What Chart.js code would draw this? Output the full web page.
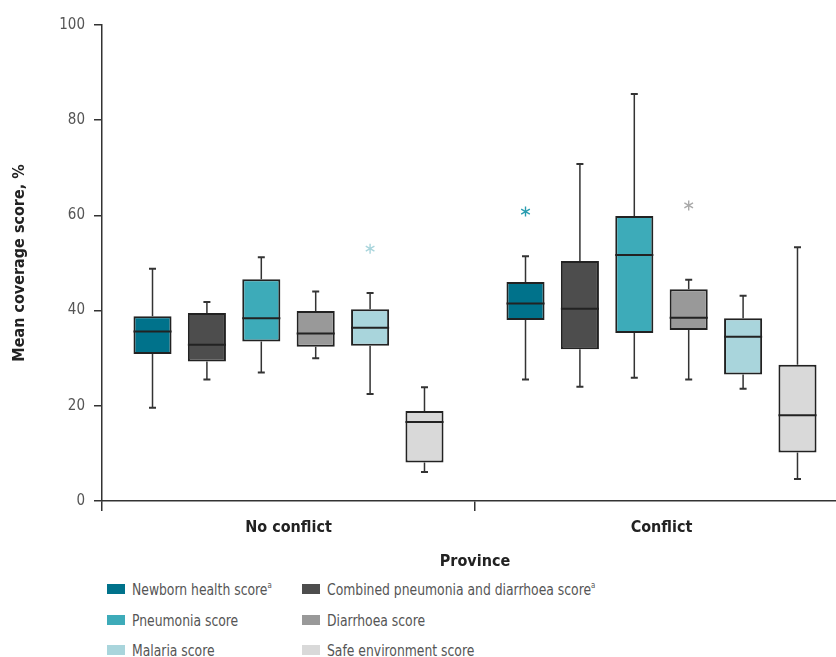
<!DOCTYPE html>
<html>
<head>
<meta charset="utf-8">
<script src="https://cdn.jsdelivr.net/npm/chart.js"></script>
<style>
  html, body { margin: 0; padding: 0; background: #fff; overflow: hidden; }
  #wrap { position: relative; width: 848px; height: 657px; }
  #chart { position: absolute; left: 0; top: 0; }
  #legend { position: absolute; left: 107px; top: 579px; font-family: 'DejaVu Sans Condensed', 'DejaVu Sans', sans-serif;
            font-size: 16px; color: #555; }
  .item { position: absolute; white-space: nowrap; height: 22px; line-height: 22px; }
  .sw { display: inline-block; width: 18px; height: 10px; margin-right: 7px; vertical-align: 1px; }
  .txt { display: inline-block; transform: scaleX(0.86); transform-origin: left center; }
  sup { font-size: 9px; vertical-align: 7px; line-height: 0; }
</style>
</head>
<body>
<div id="wrap">
  <canvas id="chart" width="848" height="575" style="width:848px;height:575px"></canvas>
  <div id="legend"></div>
</div>
<script>
// provinces on the x axis
var categories = ['No conflict', 'Conflict'];
var seriesNames = ['Newborn health score', 'Combined pneumonia and diarrhoea score', 'Pneumonia score',
                   'Diarrhoea score', 'Malaria score', 'Safe environment score'];
var footnotes = ['a', 'a', '', '', '', ''];
var seriesColors = ['#00728b', '#4d4d4d', '#3dabb9', '#999999', '#a9d5dc', '#d9d9d9'];
var outlierColors = ['#2a9db0', '#4d4d4d', '#3dabb9', '#aaaaaa', '#a9d5dc', '#d9d9d9'];

// box plot values per series, [no conflict, conflict]
var whiskerLow = [[19.6, 25.5], [25.5, 24.0], [27.0, 25.9], [30.0, 25.5], [22.5, 23.6], [6.1, 4.6]];
var quartile1  = [[30.9, 38.0], [29.3, 31.9], [33.5, 35.3], [32.4, 35.9], [32.6, 26.6], [8.1, 10.2]];
var medians    = [[35.6, 41.5], [32.8, 40.4], [38.4, 51.7], [35.2, 38.5], [36.4, 34.5], [16.6, 18.0]];
var quartile3  = [[38.8, 46.0], [39.5, 50.4], [46.6, 59.9], [39.9, 44.5], [40.3, 38.4], [18.9, 28.6]];
var whiskerHigh= [[48.8, 51.4], [41.8, 70.8], [51.2, 85.5], [44.0, 46.5], [43.7, 43.1], [23.9, 53.3]];
var outliers   = [[[], [60.8]], [[], []], [[], []], [[], [62.1]], [[53.0], []], [[], []]];

var yTicks = [0, 20, 40, 60, 80, 100];

var FONT = "'DejaVu Sans Condensed', 'DejaVu Sans', sans-serif";

var datasets = seriesNames.map(function(name, i) {
    return {
        label: name,
        data: categories.map(function(c, j) { return [quartile1[i][j], quartile3[i][j]]; }),
        backgroundColor: seriesColors[i],
        borderColor: '#222',
        borderWidth: 2,
        borderSkipped: false,
        categoryPercentage: 0.875,
        barPercentage: 0.7
    };
});

// whiskers, medians and outliers drawn on top of the floating bars
var boxPlot = {
    id: 'boxPlot',
    afterDatasetsDraw: function(chart) {
        var ctx = chart.ctx;
        var y = chart.scales.y;
        ctx.save();
        chart.data.datasets.forEach(function(ds, i) {
            var meta = chart.getDatasetMeta(i);
            meta.data.forEach(function(bar, j) {
                var x = bar.x, half = bar.width / 2;
                var yLo = y.getPixelForValue(whiskerLow[i][j]);
                var yHi = y.getPixelForValue(whiskerHigh[i][j]);
                var yQ1 = y.getPixelForValue(quartile1[i][j]);
                var yQ3 = y.getPixelForValue(quartile3[i][j]);
                var yMed = y.getPixelForValue(medians[i][j]);
                ctx.strokeStyle = '#333';
                ctx.lineWidth = 1.5;
                ctx.beginPath();
                ctx.moveTo(x, yQ1); ctx.lineTo(x, yLo);
                ctx.moveTo(x, yQ3); ctx.lineTo(x, yHi);
                ctx.stroke();
                ctx.lineWidth = 2;
                ctx.beginPath();
                ctx.moveTo(x - 3.5, yLo); ctx.lineTo(x + 3.5, yLo);
                ctx.moveTo(x - 3.5, yHi); ctx.lineTo(x + 3.5, yHi);
                ctx.stroke();
                ctx.strokeStyle = '#222';
                ctx.beginPath();
                ctx.moveTo(x - half, yMed); ctx.lineTo(x + half, yMed);
                ctx.stroke();
                // asterisks for outliers
                ctx.strokeStyle = outlierColors[i];
                ctx.lineWidth = 1.4;
                outliers[i][j].forEach(function(v) {
                    var oy = y.getPixelForValue(v), r = 5;
                    ctx.beginPath();
                    for (var k = 0; k < 3; k++) {
                        var a = Math.PI / 2 + k * Math.PI / 3;
                        ctx.moveTo(x - r * Math.cos(a), oy - r * Math.sin(a));
                        ctx.lineTo(x + r * Math.cos(a), oy + r * Math.sin(a));
                    }
                    ctx.stroke();
                });
            });
        });
        ctx.restore();
    }
};

var chart = new Chart(document.getElementById('chart'), {
    type: 'bar',
    data: { labels: categories, datasets: datasets },
    options: {
        responsive: false,
        animation: false,
        layout: { padding: { top: 25, right: 0, left: 0, bottom: 0 } },
        plugins: { legend: { display: false }, tooltip: { enabled: false } },
        scales: {
            x: {
                type: 'category',
                offset: true,
                grid: { display: true, drawOnChartArea: false, drawTicks: true, tickLength: 10, offset: true,
                        color: '#333', lineWidth: 1.5 },
                border: { color: '#333', width: 1.5 },
                ticks: { color: '#222', font: { family: FONT, size: 16, weight: 'bold' }, padding: 7 },
                title: { display: true, text: 'Province', color: '#222', padding: { top: 9 },
                         font: { family: FONT, size: 16, weight: 'bold' } },
                afterFit: function(scale) { scale.height = 74; }
            },
            y: {
                min: 0, max: 100,
                afterBuildTicks: function(scale) { scale.ticks = yTicks.map(function(v) { return { value: v }; }); },
                grid: { display: true, drawOnChartArea: false, drawTicks: true, tickLength: 8, color: '#333', lineWidth: 1.5 },
                border: { color: '#333', width: 1.5 },
                ticks: { color: '#555', font: { family: FONT, size: 15 }, padding: 9 },
                title: { display: true, text: 'Mean coverage score, %', color: '#222', padding: { top: 10, bottom: 4 },
                         font: { family: FONT, size: 16, weight: 'bold' } },
                afterFit: function(scale) { scale.width = 102; }
            }
        }
    },
    plugins: [boxPlot]
});

// two-column legend built from the series arrays
var legend = document.getElementById('legend');
seriesNames.forEach(function(name, i) {
    var el = document.createElement('div');
    el.className = 'item';
    el.style.left = (i % 2 === 0 ? 0 : 195) + 'px';
    el.style.top = (Math.floor(i / 2) * 30.5) + 'px';
    el.innerHTML = '<span class="sw" style="background:' + seriesColors[i] + '"></span>' +
                   '<span class="txt">' + name + (footnotes[i] ? '<sup>' + footnotes[i] + '</sup>' : '') + '</span>';
    legend.appendChild(el);
});
</script>
</body>
</html>
